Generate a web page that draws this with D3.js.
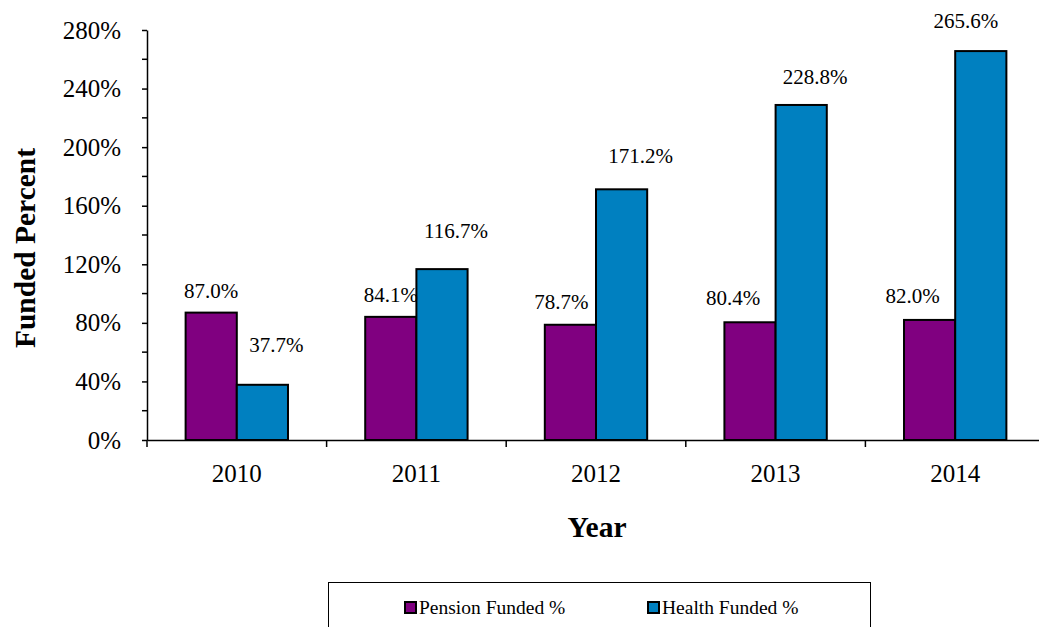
<!DOCTYPE html>
<html>
<head>
<meta charset="utf-8">
<script src="https://cdn.jsdelivr.net/npm/d3@7"></script>
<style>
  body { margin: 0; background: #fff; }
  svg { display: block; }
  text { font-family: "Liberation Serif", "Times New Roman", serif; }
</style>
</head>
<body>
<svg id="chart" width="1039" height="627"></svg>
<script>
// ---- data ----
const years = ["2010", "2011", "2012", "2013", "2014"];
const pensionFunded = [87.0, 84.1, 78.7, 80.4, 82.0];
const healthFunded = [37.7, 116.7, 171.2, 228.8, 265.6];
const seriesNames = ["Pension Funded %", "Health Funded %"];
const yTicks = [0, 40, 80, 120, 160, 200, 240, 280];

// ---- layout / style (label nudges as placed in the original) ----
const FONT = "Liberation Serif";
const colors = ["#800080", "#0080c0"];
const labelNudge = [
  [[0, -15], [0, -15], [-9, -16], [-17, -17], [-17, -17]],
  [[14, -33], [14, -31], [19, -26], [14, -21], [-15, -23]]
];

const svg = d3.select("#chart");
const plotLeft = 147, plotRight = 1045, plotTop = 30, plotBottom = 440;

const x = d3.scaleBand().domain(years).range([plotLeft, plotRight])
  .paddingInner(0.43).paddingOuter(0.215);
const xs = d3.scaleBand().domain([0, 1]).range([0, x.bandwidth()]);
const y = d3.scaleLinear().domain([0, 280]).range([plotBottom, plotTop]);

const series = [pensionFunded, healthFunded];

// bars
series.forEach((vals, si) => {
  svg.append("g").selectAll("rect").data(vals).join("rect")
    .attr("x", (d, i) => x(years[i]) + xs(si))
    .attr("y", d => y(d))
    .attr("width", xs.bandwidth())
    .attr("height", d => y(0) - y(d))
    .attr("fill", colors[si])
    .attr("stroke", "#000")
    .attr("stroke-width", 2);
});

// data labels
series.forEach((vals, si) => {
  svg.append("g").selectAll("text").data(vals).join("text")
    .attr("x", (d, i) => x(years[i]) + xs(si) + xs.bandwidth() / 2 + labelNudge[si][i][0])
    .attr("y", (d, i) => y(d) + labelNudge[si][i][1])
    .attr("text-anchor", "middle")
    .attr("font-family", FONT)
    .attr("font-size", "21px")
    .attr("fill", "#000")
    .text(d => d.toFixed(1) + "%");
});

// y axis
const yAxis = svg.append("g").attr("transform", `translate(${plotLeft},0)`)
  .call(d3.axisLeft(y).tickValues(yTicks).tickFormat(d => d + "%")
    .tickSize(5).tickPadding(21).tickSizeOuter(0));
yAxis.attr("font-family", FONT);
yAxis.selectAll("text").attr("font-size", "25px").attr("font-family", FONT).attr("fill", "#000");
yAxis.select(".domain").attr("stroke", "#000").attr("stroke-width", 1.5);
yAxis.selectAll(".tick line").attr("stroke", "#000").attr("stroke-width", 1.5);
// minor ticks
svg.append("g").selectAll("line").data(d3.range(20, 280, 40)).join("line")
  .attr("x1", plotLeft - 5).attr("x2", plotLeft)
  .attr("y1", d => y(d)).attr("y2", d => y(d))
  .attr("stroke", "#000").attr("stroke-width", 1.5);

// x axis
const xAxis = svg.append("g").attr("transform", `translate(0,${plotBottom})`)
  .call(d3.axisBottom(x).tickSize(0).tickPadding(24).tickSizeOuter(0));
xAxis.attr("font-family", FONT);
xAxis.selectAll("text").attr("font-size", "25px").attr("font-family", FONT).attr("fill", "#000");
xAxis.select(".domain").attr("stroke", "#000").attr("stroke-width", 1.5);
// boundary ticks
svg.append("g").selectAll("line").data(years).join("line")
  .attr("x1", d => x(d) - x.step() * x.paddingInner() / 2)
  .attr("x2", d => x(d) - x.step() * x.paddingInner() / 2)
  .attr("y1", plotBottom).attr("y2", plotBottom + 7)
  .attr("stroke", "#000").attr("stroke-width", 1.5);

// axis titles
svg.append("text")
  .attr("transform", "translate(35,248) rotate(-90)")
  .attr("text-anchor", "middle")
  .attr("font-family", FONT)
  .attr("font-size", "29.5px").attr("font-weight", "bold")
  .text("Funded Percent");
svg.append("text")
  .attr("x", 597).attr("y", 537)
  .attr("text-anchor", "middle")
  .attr("font-family", FONT)
  .attr("font-size", "29.5px").attr("font-weight", "bold")
  .text("Year");

// legend
const lg = svg.append("g");
lg.append("rect").attr("x", 328.5).attr("y", 582.5).attr("width", 542).attr("height", 60)
  .attr("fill", "none").attr("stroke", "#000").attr("stroke-width", 1);
const legendX = [405, 648];
seriesNames.forEach((name, i) => {
  lg.append("rect").attr("x", legendX[i]).attr("y", 602).attr("width", 11).attr("height", 11)
    .attr("fill", colors[i]).attr("stroke", "#000").attr("stroke-width", 2);
  lg.append("text").attr("x", legendX[i] + 14).attr("y", 614)
    .attr("font-family", FONT)
    .attr("font-size", "19.5px").attr("fill", "#000").text(name);
});
</script>
</body>
</html>
